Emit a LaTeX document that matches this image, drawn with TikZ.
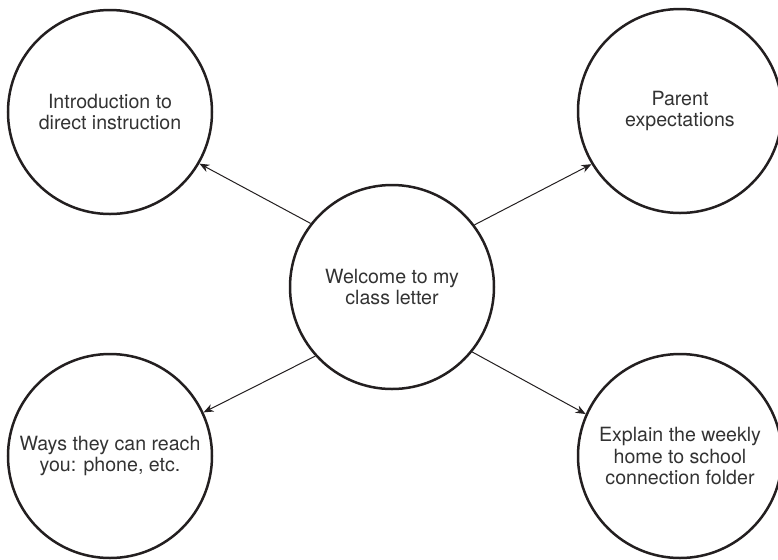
\documentclass[tikz,border=0pt]{standalone}
\usepackage{fontspec}
\setmainfont{TeX Gyre Heros}
\usetikzlibrary{arrows.meta}
\definecolor{ink}{HTML}{231F20}
\definecolor{txt}{HTML}{333333}
\begin{document}
\begin{tikzpicture}[x=0.5pt,y=-0.5pt,
  topic/.style={circle, draw=ink, line width=1.25pt, minimum size=102pt,
    inner sep=0pt, align=center, text=txt,
    font=\fontsize{9.8pt}{10.85pt}\selectfont},
  link/.style={draw=ink, line width=0.5pt,
    -{Stealth[length=5pt,width=4pt]}}]
  \useasboundingbox (0,0) rectangle (778,559);
  % central topic
  \node[topic] (c)  at (392,287) {Welcome to my\\class letter};
  % surrounding topics
  \node[topic] (tl) at (110,112) {Introduction to\\direct instruction};
  \node[topic] (tr) at (680,111) {Parent\\expectations};
  \node[topic] (bl) at (110,456) {Ways they can reach\\you: phone, etc.};
  \node[topic] (br) at (680,456) {Explain the weekly\\home to school\\connection folder};
  % links from the centre outwards
  \draw[link] (c.142) -- (tl.330);
  \draw[link] (c.37)  -- (tr.211);
  \draw[link] (c.222) -- (bl.25);
  \draw[link] (c.321) -- (br.156);
\end{tikzpicture}
\end{document}
